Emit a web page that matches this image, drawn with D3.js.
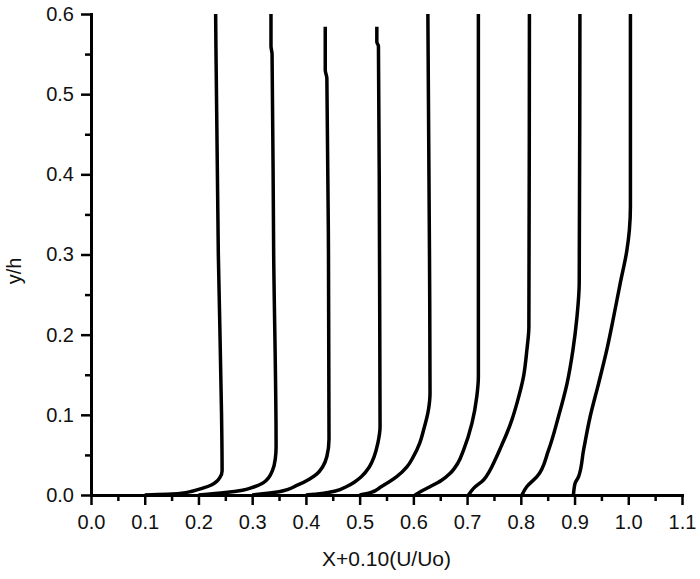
<!DOCTYPE html>
<html>
<head>
<meta charset="utf-8">
<script src="https://cdn.jsdelivr.net/npm/d3@7"></script>
<style>
  body { margin: 0; background: #fff; }
  text { font-family: "Liberation Sans", Arial, sans-serif; fill: #111; }
</style>
</head>
<body>
<div class="chart"></div>
<script>
const width = 700;
const height = 579;

// tick values and labels
const xMajor = [0, 0.1, 0.2, 0.3, 0.4, 0.5, 0.6, 0.7, 0.8, 0.9, 1.0, 1.1];
const xLabels = ["0.0", "0.1", "0.2", "0.3", "0.4", "0.5", "0.6", "0.7", "0.8", "0.9", "1.0", "1.1"];
const xMinor = [0.05, 0.15, 0.25, 0.35, 0.45, 0.55, 0.65, 0.75, 0.85, 0.95, 1.05];
const yMajor = [0, 0.1, 0.2, 0.3, 0.4, 0.5, 0.6];
const yLabels = ["0.0", "0.1", "0.2", "0.3", "0.4", "0.5", "0.6"];
const yMinor = [0.05, 0.15, 0.25, 0.35, 0.45, 0.55];

// velocity profiles, each point is [y/h, X + 0.10(U/Uo)]
const profile1 = [[0, 0.10], [0.002, 0.165], [0.005, 0.19], [0.0085, 0.208], [0.0125, 0.224], [0.017, 0.234], [0.022, 0.24], [0.03, 0.244], [0.1, 0.243], [0.3, 0.237], [0.6, 0.232]];
const profile2 = [[0, 0.20], [0.003, 0.25], [0.006, 0.282], [0.01, 0.303], [0.015, 0.32], [0.022, 0.331], [0.031, 0.338], [0.045, 0.343], [0.06, 0.3445], [0.3, 0.340], [0.55, 0.337], [0.56, 0.335], [0.6, 0.335]];
const profile3 = [[0, 0.30], [0.004, 0.35], [0.0125, 0.385], [0.02, 0.407], [0.026, 0.42], [0.035, 0.431], [0.048, 0.439], [0.07, 0.443], [0.3, 0.442], [0.52, 0.439], [0.53, 0.436], [0.584, 0.436]];
const profile4 = [[0, 0.40], [0.002, 0.43], [0.005, 0.455], [0.0103, 0.475], [0.016, 0.49], [0.0228, 0.503], [0.035, 0.518], [0.048, 0.527], [0.065, 0.534], [0.085, 0.538], [0.3, 0.537], [0.56, 0.535], [0.565, 0.532], [0.584, 0.532]];
const profile5 = [[0, 0.50], [0.003, 0.52], [0.0103, 0.54], [0.0228, 0.569], [0.035, 0.588], [0.0478, 0.600], [0.065, 0.612], [0.081, 0.619], [0.106, 0.628], [0.127, 0.631], [0.3, 0.630], [0.6, 0.627]];
const profile6 = [[0, 0.603], [0.0041, 0.613], [0.0103, 0.631], [0.018, 0.652], [0.027, 0.6685], [0.04, 0.683], [0.0561, 0.6934], [0.0894, 0.709], [0.1226, 0.718], [0.1476, 0.721], [0.6, 0.721]];
const profile7 = [[0, 0.7026], [0.0083, 0.712], [0.0187, 0.7306], [0.03, 0.742], [0.0436, 0.752], [0.06, 0.763], [0.077, 0.774], [0.095, 0.784], [0.1143, 0.7927], [0.1476, 0.805], [0.181, 0.8113], [0.21, 0.815], [0.6, 0.816]];
const profile8 = [[0, 0.802], [0.0103, 0.811], [0.0228, 0.830], [0.0561, 0.8516], [0.0976, 0.870], [0.139, 0.886], [0.181, 0.897], [0.222, 0.9045], [0.264, 0.9087], [0.6, 0.910]];
const profile9 = [[0, 0.898], [0.0146, 0.901], [0.0228, 0.9075], [0.0561, 0.9168], [0.0976, 0.929], [0.139, 0.9447], [0.181, 0.960], [0.222, 0.9727], [0.264, 0.985], [0.3055, 0.9975], [0.33, 1.002], [0.36, 1.004], [0.6, 1.004]];

const profiles = [profile1, profile2, profile3, profile4, profile5, profile6, profile7, profile8, profile9];

const svg = d3
  .select(".chart")
  .append("svg")
  .attr("width", width)
  .attr("height", height);

const x = d3.scaleLinear().domain([0, 1.1]).range([91, 682]);
const y = d3.scaleLinear().domain([0, 0.6]).range([495, 14]);

// minor ticks first, under the axis line
svg
  .append("g")
  .attr("transform", `translate(0,${y(0)})`)
  .call(d3.axisBottom(x).tickValues(xMinor).tickSize(6).tickFormat(""))
  .call((g) => g.select(".domain").remove())
  .call((g) => g.selectAll("line").attr("stroke", "#000").attr("stroke-width", 2.5));

svg
  .append("g")
  .attr("transform", `translate(${x(0)},0)`)
  .call(d3.axisLeft(y).tickValues(yMinor).tickSize(6).tickFormat(""))
  .call((g) => g.select(".domain").remove())
  .call((g) => g.selectAll("line").attr("stroke", "#000").attr("stroke-width", 2.5));

// major ticks and labels
const xAxis = svg
  .append("g")
  .attr("transform", `translate(0,${y(0)})`)
  .call(
    d3.axisBottom(x)
      .tickValues(xMajor)
      .tickSize(10)
      .tickSizeOuter(0)
      .tickPadding(10)
      .tickFormat((d, i) => xLabels[i])
  );

const yAxis = svg
  .append("g")
  .attr("transform", `translate(${x(0)},0)`)
  .call(
    d3.axisLeft(y)
      .tickValues(yMajor)
      .tickSize(10)
      .tickSizeOuter(0)
      .tickPadding(7)
      .tickFormat((d, i) => yLabels[i])
  );

[xAxis, yAxis].forEach((g) => {
  g.select(".domain").attr("stroke", "#000").attr("stroke-width", 3).attr("stroke-linecap", "square");
  g.selectAll(".tick line").attr("stroke", "#000").attr("stroke-width", 2.5);
  g.selectAll(".tick text").style("font-size", "20px").attr("fill", "#111");
});

// axis titles
svg
  .append("text")
  .attr("x", (x(0) + x(1.1)) / 2)
  .attr("y", 566)
  .attr("text-anchor", "middle")
  .style("font-size", "21px")
  .text("X+0.10(U/Uo)");

svg
  .append("text")
  .attr("transform", "translate(21,271) rotate(-90)")
  .attr("text-anchor", "middle")
  .style("font-size", "20px")
  .text("y/h");

// profiles
const line = d3
  .line()
  .x((d) => x(d[1]))
  .y((d) => y(d[0]))
  .curve(d3.curveMonotoneY);

svg
  .append("g")
  .selectAll("path")
  .data(profiles)
  .enter()
  .append("path")
  .attr("d", (d) => line(d.slice().reverse()))
  .attr("fill", "none")
  .attr("stroke", "#000")
  .attr("stroke-width", 3.5)
  .attr("stroke-linejoin", "round");
</script>
</body>
</html>
